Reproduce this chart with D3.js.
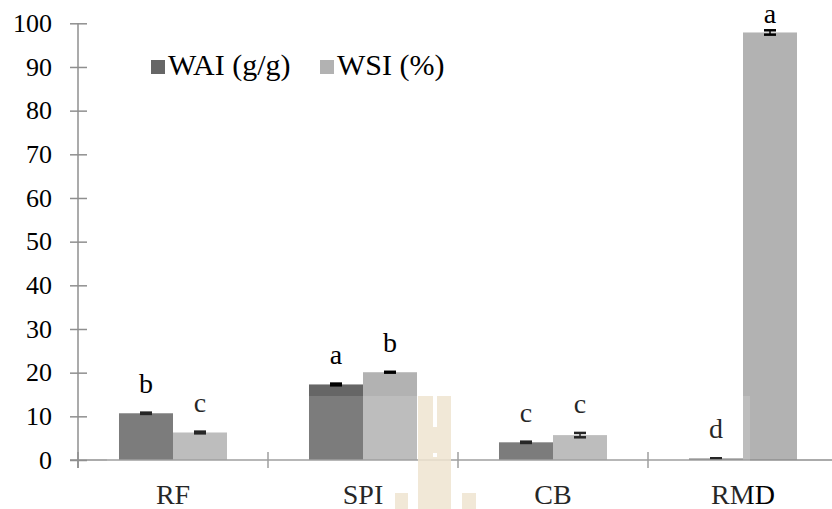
<!DOCTYPE html>
<html><head><meta charset="utf-8">
<script src="https://cdn.jsdelivr.net/npm/d3@7"></script>
<style>body{margin:0;background:#fff}svg{display:block;font-family:"Liberation Serif","Times New Roman",serif}text{font-family:"Liberation Serif","Times New Roman",serif}</style>
</head><body><svg id="c" width="832" height="509"></svg>
<script>
const categories = ["RF", "SPI", "CB", "RMD"];
const seriesNames = ["WAI (g/g)", "WSI (%)"];
const waiValues = [10.7, 17.3, 4.05, 0.35];
const wsiValues = [6.3, 20.1, 5.7, 97.9];
const waiErrors = [0.15, 0.2, 0.15, 0.05];
const wsiErrors = [0.2, 0.1, 0.5, 0.5];
const waiLetters = ["b", "a", "c", "d"];
const wsiLetters = ["c", "b", "c", "a"];
const yTicks = [0, 10, 20, 30, 40, 50, 60, 70, 80, 90, 100];
const colors = ["#666666", "#b2b2b2"];

const svg = d3.select("#c");
const y = d3.scaleLinear().domain([0, 100]).range([460, 23.3]);
const x = d3.scaleBand().domain(categories).range([78, 838]);
const xs = d3.scaleBand().domain(seriesNames).range([0, x.bandwidth()]).paddingOuter(0.759);

const axisColor = "#8f8f8f";
// y axis
const yAxis = svg.append("g").attr("transform", "translate(78,0)")
  .call(d3.axisLeft(y).tickValues(yTicks).tickSize(8).tickPadding(18));
yAxis.attr("font-family", null);
yAxis.select(".domain").remove();
yAxis.selectAll(".tick line").attr("x1", -8).attr("x2", 9).attr("stroke", axisColor).attr("stroke-width", 1.5);
yAxis.selectAll(".tick text").attr("font-size", 26).attr("fill", "#000");
svg.append("line").attr("x1", 78).attr("x2", 78).attr("y1", y(100)).attr("y2", 468)
  .attr("stroke", axisColor).attr("stroke-width", 1.5);

const data = categories.map((c, i) => ({c, vals: [
  {s: seriesNames[0], v: waiValues[i], e: waiErrors[i], l: waiLetters[i], k: 0},
  {s: seriesNames[1], v: wsiValues[i], e: wsiErrors[i], l: wsiLetters[i], k: 1}]}));

const g = svg.selectAll("g.cat").data(data).join("g").attr("class", "cat")
  .attr("transform", d => `translate(${x(d.c)},0)`);
g.selectAll("rect").data(d => d.vals).join("rect")
  .attr("x", d => xs(d.s)).attr("width", xs.bandwidth())
  .attr("y", d => y(d.v)).attr("height", d => y(0) - y(d.v))
  .attr("fill", d => colors[d.k]);

// x axis
svg.append("line").attr("x1", 70).attr("x2", 832).attr("y1", 460).attr("y2", 460)
  .attr("stroke", axisColor).attr("stroke-width", 1.5);
const bounds = categories.map(c => x(c));
svg.selectAll("line.xt").data(bounds).join("line").attr("class", "xt")
  .attr("x1", d => d).attr("x2", d => d).attr("y1", 452).attr("y2", 468)
  .attr("stroke", axisColor).attr("stroke-width", 1.5);
svg.selectAll("text.cl").data(categories).join("text").attr("class", "cl")
  .attr("x", d => x(d) + x.bandwidth() / 2).attr("y", 504)
  .attr("text-anchor", "middle").attr("font-size", 28).text(d => d);

// error bars
const eb = g.selectAll("g.eb").data(d => d.vals).join("g").attr("class", "eb");
eb.append("line").attr("x1", d => xs(d.s) + xs.bandwidth() / 2).attr("x2", d => xs(d.s) + xs.bandwidth() / 2)
  .attr("y1", d => y(d.v + d.e)).attr("y2", d => y(d.v - d.e)).attr("stroke", "#000").attr("stroke-width", 1.5);
eb.selectAll("line.cap").data(d => [{d, v: d.v + d.e}, {d, v: d.v - d.e}]).join("line").attr("class", "cap")
  .attr("x1", o => xs(o.d.s) + xs.bandwidth() / 2 - 6).attr("x2", o => xs(o.d.s) + xs.bandwidth() / 2 + 6)
  .attr("y1", o => y(o.v)).attr("y2", o => y(o.v)).attr("stroke", "#000").attr("stroke-width", 2.5);

// letters
g.selectAll("text.lt").data(d => d.vals).join("text").attr("class", "lt")
  .attr("x", d => xs(d.s) + xs.bandwidth() / 2).attr("y", d => Math.max(23, y(d.v + d.e) - 20))
  .attr("text-anchor", "middle").attr("font-size", 28).text(d => d.l);

// legend
const leg = svg.append("g");
const legX = [151, 320];
seriesNames.forEach((s, i) => {
  leg.append("rect").attr("x", legX[i]).attr("y", 60).attr("width", 14).attr("height", 14).attr("fill", colors[i]);
  leg.append("text").attr("x", legX[i] + 17).attr("y", 75).attr("font-size", 30).text(s);
});

// watermark overlay
svg.append("rect").attr("x", 107).attr("y", 396).attr("width", 643).attr("height", 113)
  .attr("fill", "#fff").attr("fill-opacity", 0.15);
const wm = svg.append("g").attr("fill", "#eee4d0").attr("fill-opacity", 0.85);
wm.append("rect").attr("x", 418).attr("y", 396).attr("width", 15).attr("height", 113);
wm.append("rect").attr("x", 437).attr("y", 396).attr("width", 14).attr("height", 113);
wm.append("rect").attr("x", 433).attr("y", 427).attr("width", 4).attr("height", 26);
wm.append("rect").attr("x", 433).attr("y", 457).attr("width", 4).attr("height", 52);
wm.append("rect").attr("x", 395).attr("y", 493).attr("width", 13).attr("height", 16);
wm.append("rect").attr("x", 462).attr("y", 493).attr("width", 14).attr("height", 16);
</script></body></html>
